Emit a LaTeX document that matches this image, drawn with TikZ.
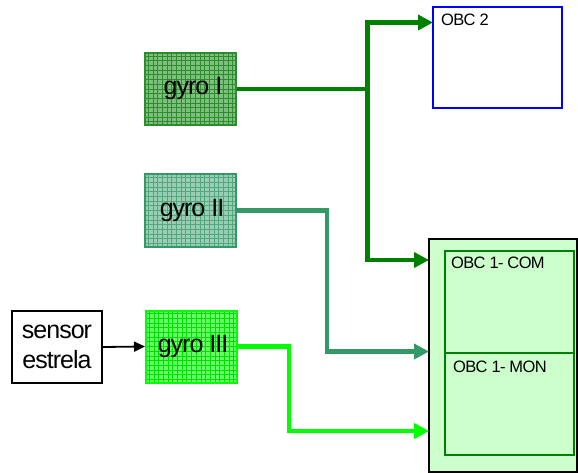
\documentclass[tikz,border=0pt]{standalone}
\usepackage{fontspec}
\setmainfont{Liberation Sans}
\newfontfamily\tightfont[LetterSpace=-4]{Liberation Sans}
\usetikzlibrary{arrows.meta}
\definecolor{gIline}{HTML}{2E8B2E}
\definecolor{gIfill}{HTML}{7DBF7D}
\definecolor{gIIline}{HTML}{339966}
\definecolor{gIIfill}{HTML}{9ACDB4}
\definecolor{gIIIline}{HTML}{00FF00}
\definecolor{gIIIfill}{HTML}{66FF66}
\definecolor{gIIIgrid}{HTML}{00DD00}
\definecolor{connI}{HTML}{008000}
\definecolor{obcfill}{HTML}{CCFFCC}
\begin{document}
\begin{tikzpicture}[x=1pt,y=-1pt,
  gyrobox/.style={draw=#1line, line width=2pt, fill=#1fill, minimum width=91pt, minimum height=72pt, inner sep=0pt},
  gyrotext/.style={font=\tightfont\fontsize{25}{28}\selectfont, inner sep=0pt},
  gridI/.style={path picture={\draw[gIline, line width=0.8pt, step=4.7pt] (path picture bounding box.south west) grid (path picture bounding box.north east);}},
  gridII/.style={path picture={\draw[gIIline!85, line width=0.8pt, step=4.7pt] (path picture bounding box.south west) grid (path picture bounding box.north east);}},
  gridIII/.style={path picture={\draw[gIIIgrid, line width=0.8pt, step=4.7pt] (path picture bounding box.south west) grid (path picture bounding box.north east);}},
  conn/.style={line width=4.5pt, -{Triangle[length=15pt,width=15pt]}},
  lbl/.style={font=\tightfont\fontsize{16.5}{18}\selectfont, inner sep=0pt, anchor=base west}
]
\useasboundingbox (0,0) rectangle (578,473);
% gyros
\node[gyrobox=gI, gridI] (gyroI) at (190.5,89) {};
\node[gyrotext] (gyroIt) at (193,88) {gyro I};
\node[gyrobox=gII, gridII] (gyroII) at (190.5,210.5) {};
\node[gyrotext] (gyroIIt) at (192,210) {gyro II};
\node[gyrobox=gIII, gridIII] (gyroIII) at (191.5,346.5) {};
\node[gyrotext] (gyroIIIt) at (193,346) {gyro III};
% sensor
\node[draw=black, line width=1.5pt, minimum width=90pt, minimum height=72pt, inner sep=0pt, align=center,
  font=\tightfont\fontsize{25}{30}\selectfont] (sensor) at (57,347) {sensor\\estrela};
% OBC 2
\node[draw=blue, line width=2pt, fill=white, minimum width=129pt, minimum height=101pt, inner sep=0pt] (obc2) at (497.5,57.5) {};
\node[lbl] (obc2l) at (441,26) {OBC 2};
% OBC 1
\node[draw=black, line width=1.5pt, fill=obcfill, minimum width=148pt, minimum height=233pt, inner sep=0pt] (obc1) at (503,355.5) {};
\node[draw=connI, line width=2pt, minimum width=129pt, minimum height=102pt, inner sep=0pt] (com) at (509.5,302) {};
\node[draw=connI, line width=2pt, minimum width=129pt, minimum height=102pt, inner sep=0pt] (mon) at (509.5,404) {};
\node[lbl] (coml) at (451,268) {OBC 1- COM};
\node[lbl] (monl) at (453,372) {OBC 1- MON};
% coordinates
\coordinate (j1) at (367.5,89);
\coordinate (t2) at (433,22.5);
\coordinate (t1) at (429,260);
\coordinate (k2) at (327,351.5);
\coordinate (t3) at (429,351.5);
\coordinate (k3) at (289,431);
\coordinate (t4) at (429,431);
% connectors
\draw[connI, line width=4.5pt] (gyroI.east) -- (j1);
\draw[connI, conn] (j1) |- (t2);
\draw[connI, conn] (j1) |- (t1);
\draw[gIIline, conn] (gyroII.east) -| (k2) -- (t3);
\draw[gIIIline, conn] (gyroIII.east) -| (k3) -- (t4);
\draw[black, line width=1.8pt, -{Triangle[length=11pt,width=10pt]}] (sensor.east) -- (gyroIII.west);
\end{tikzpicture}
\end{document}
